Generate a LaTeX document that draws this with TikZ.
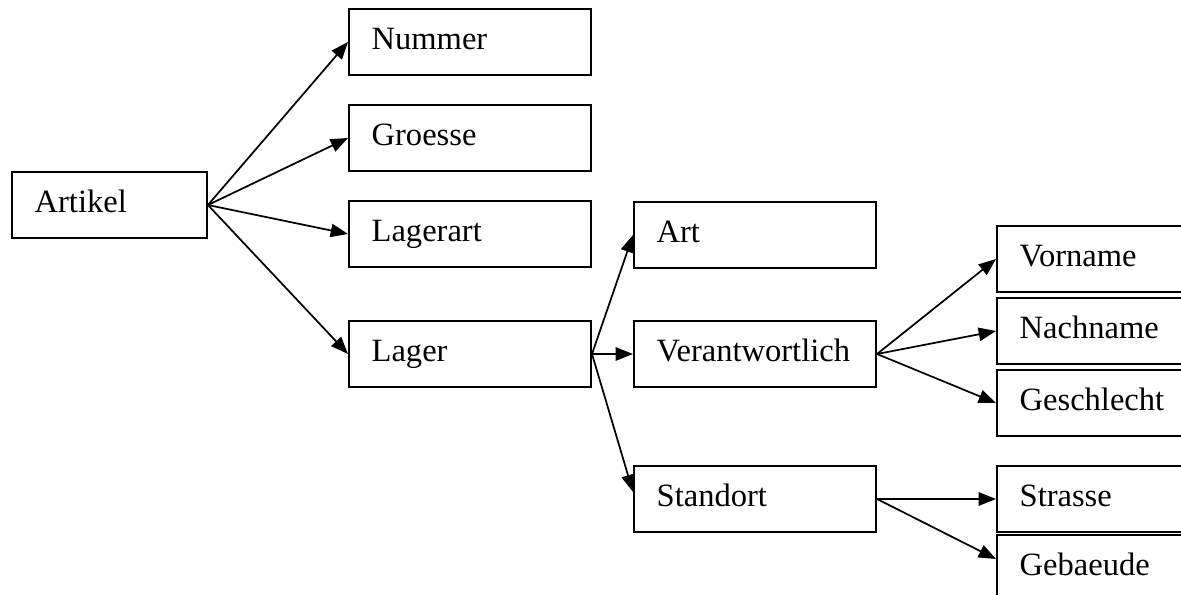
\documentclass[tikz,border=0pt]{standalone}
\usepackage{fontspec}
\setmainfont{Liberation Serif}
\usepackage{tikz}
\usetikzlibrary{arrows.meta, calc}
\tikzset{
    box/.style={
        rectangle, anchor=north west, draw=black, line width=0.75pt,
        minimum height=24.75pt, inner xsep=8.5pt, inner ysep=0pt,
        text height=8.5pt, text depth=3pt, align=left,
        font=\fontsize{12.2}{14}\selectfont
    },
    widebox/.style={
        box, text width=73.75pt
    },
    rootbox/.style={
        box, text width=56.1pt
    },
    arrow/.style={
        -{Triangle[length=6.5pt, width=5pt]}, line width=0.65pt, draw=black
    }
}
\begin{document}
\begin{tikzpicture}[x=0.375pt, y=-0.375pt]

    \useasboundingbox (0,0) rectangle (1181,595);
    \clip (0,0) rectangle (1181,595);

    \node[rootbox] (artikel)    at (11,171)  {Artikel};
    \node[widebox] (nummer)     at (348,8)   {Nummer};
    \node[widebox] (groesse)    at (348,104) {Groesse};
    \node[widebox] (lagerart)   at (348,200) {Lagerart};
    \node[widebox] (lager)      at (348,320) {Lager};
    \node[widebox] (art)        at (633,201) {Art};
    \node[widebox] (verant)     at (633,320) {Verantwortlich};
    \node[widebox] (standort)   at (633,465) {Standort};
    \node[widebox] (vorname)    at (996,225) {Vorname};
    \node[widebox] (nachname)   at (996,297) {Nachname};
    \node[widebox] (geschlecht) at (996,369) {Geschlecht};
    \node[widebox] (strasse)    at (996,465) {Strasse};
    \node[widebox] (gebaeude)   at (996,534) {Gebaeude};

    \draw[arrow] (artikel.east) -- (nummer.west);
    \draw[arrow] (artikel.east) -- (groesse.west);
    \draw[arrow] (artikel.east) -- (lagerart.west);
    \draw[arrow] (artikel.east) -- (lager.west);

    \draw[arrow] (lager.east) -- (art.west);
    \draw[arrow] (lager.east) -- (verant.west);
    \draw[arrow] (lager.east) -- ($(standort.west)+(0,-7)$);

    \draw[arrow] (verant.east) -- (vorname.west);
    \draw[arrow] (verant.east) -- (nachname.west);
    \draw[arrow] (verant.east) -- (geschlecht.west);

    \draw[arrow] (standort.east) -- (strasse.west);
    \draw[arrow] (standort.east) -- ($(gebaeude.west)+(0,-9)$);

\end{tikzpicture}
\end{document}
